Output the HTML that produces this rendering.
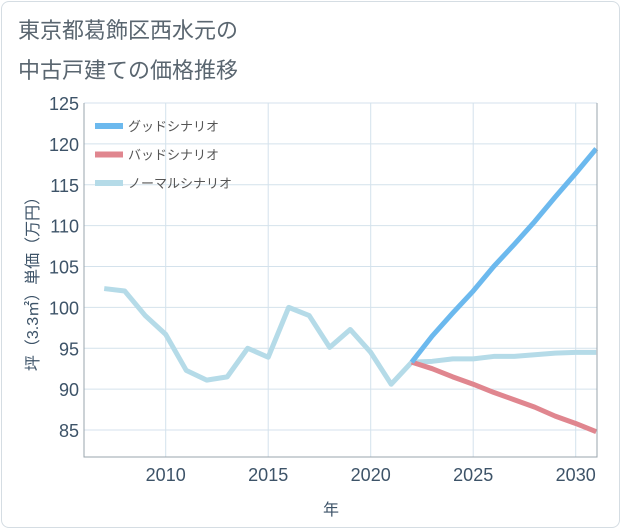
<!DOCTYPE html>
<html><head><meta charset="utf-8"><style>
body{margin:0;background:#fff;}
#frame{position:absolute;left:1px;top:1px;width:617px;height:525px;border:1px solid #d5dde3;border-radius:8px;background:#fff;}
text{font-family:"Liberation Sans","Noto Sans CJK JP",sans-serif;}
</style></head><body>
<div id="frame"></div>
<svg id="chart" width="621" height="530" style="position:absolute;left:0;top:0">
<text x="18" y="38" font-size="22" fill="#5a6670">東京都葛飾区西水元の</text>
<text x="18" y="78" font-size="22" fill="#5a6670">中古戸建ての価格推移</text>
<g id="grid"></g><g id="series"></g><g id="axes"></g>
<g id="legend"></g>
<text x="331" y="515" font-size="16" fill="#3d5368" text-anchor="middle">年</text>
<text transform="translate(38,280) rotate(-90)" font-size="16" fill="#3d5368" text-anchor="middle">坪（3.3㎡）単価（万円）</text>
</svg>
<script>
const years=[2007,2008,2009,2010,2011,2012,2013,2014,2015,2016,2017,2018,2019,2020,2021,2022,2023,2024,2025,2026,2027,2028,2029,2030,2031];
const normal=[102.3,102,99,96.7,92.3,91.1,91.5,95,93.9,100,99,95.1,97.3,94.5,90.6,93.3,93.4,93.7,93.7,94,94,94.2,94.4,94.5,94.5];
const futureYears=[2022,2023,2024,2025,2026,2027,2028,2029,2030,2031];
const good=[93.3,96.5,99.3,102,105,107.7,110.5,113.5,116.4,119.4];
const bad=[93.3,92.5,91.5,90.6,89.6,88.7,87.8,86.7,85.8,84.8];
const xTicks=[2010,2015,2020,2025,2030];
const yTicks=[85,90,95,100,105,110,115,120,125];
const L=84,R=597,T=103,B=457;
const X=y=>165.7+(y-2010)*20.5;
const Y=v=>430-(v-85)*8.175;
const NS="http://www.w3.org/2000/svg";
function mk(tag,attrs,parent){const e=document.createElementNS(NS,tag);for(const k in attrs)e.setAttribute(k,attrs[k]);document.getElementById(parent).appendChild(e);return e;}
xTicks.forEach(t=>{
 const l=mk('line',{x1:X(t),x2:X(t),y1:T,y2:B,stroke:'#d4e2ec','stroke-width':1},'grid');
 
 
 const tx=mk('text',{x:X(t),y:481,'font-size':18,fill:'#3d5368','text-anchor':'middle'},'axes');
 tx.textContent=t;
 
 
});
yTicks.forEach(t=>{
 const l=mk('line',{x1:L,x2:R,y1:Y(t),y2:Y(t),stroke:'#d4e2ec','stroke-width':1},'grid');
 
 
 const tx=mk('text',{x:79,y:Y(t)+7,'font-size':18,fill:'#3d5368','text-anchor':'end'},'axes');
 tx.textContent=t;
 
 
});
const ax=mk('polyline',{points:`${L},${T} ${L},${B} ${R},${B} ${R},${T}`,fill:'none',stroke:'#9aa4ac','stroke-width':1},'axes');


function line(xs,vs,color,name){
 const p=mk('polyline',{points:xs.map((y,i)=>X(y)+','+Y(vs[i])).join(' '),fill:'none',stroke:color,'stroke-width':5,'stroke-linejoin':'round'},'series');
 
 
}
line(years,normal,'#b5dbe8','normal-scenario-line');
line(futureYears,bad,'#e0868f','bad-scenario-line');
line(futureYears,good,'#6cb9ee','good-scenario-line');
const leg=[['グッドシナリオ','#6cb9ee'],['バッドシナリオ','#e0868f'],['ノーマルシナリオ','#b5dbe8']];
leg.forEach((d,i)=>{
 const y=126+i*28.5;
 const r=mk('rect',{x:95,y:y-3,width:28,height:6,fill:d[1]},'legend');
 
 
 const t=mk('text',{x:128,y:y+5,'font-size':13,fill:'#555'},'legend');
 t.textContent=d[0];
 
 
});
</script>
</body></html>
